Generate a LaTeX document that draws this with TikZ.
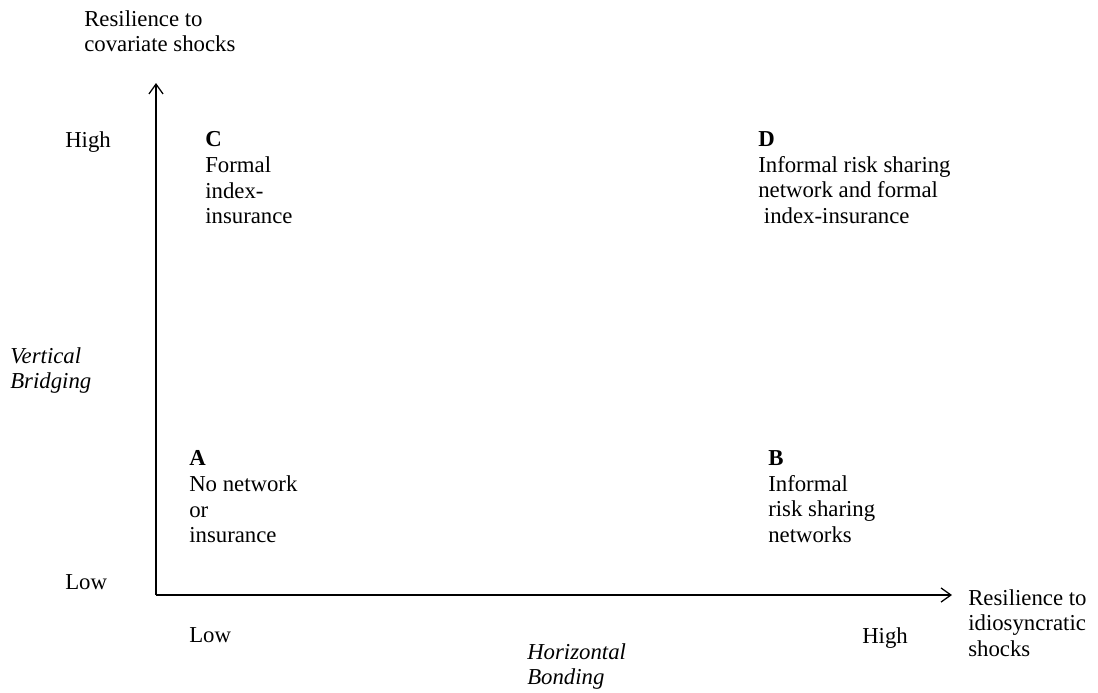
\documentclass[tikz,border=0pt]{standalone}
\usepackage{fontspec}
\setmainfont{Liberation Serif}
\usetikzlibrary{arrows.meta}
\begin{document}
\begin{tikzpicture}[x=0.025cm, y=-0.025cm, font=\fontsize{16.2}{18.4}\selectfont, line join=round, >={Straight Barb[length=7pt,width=10pt]},
	lbl/.style={anchor=north west, inner sep=0pt, align=left}]
		\useasboundingbox (0,0) rectangle (1098,692);
		\coordinate (O) at (156,595);
		\coordinate (ytop) at (156,83);
		\coordinate (xend) at (952,595);
		\draw[->, line width=0.9pt] (O)--(ytop);
		\draw[->, line width=0.9pt] (O)--(xend);
		
		% axis titles
		\node[lbl] (ytitle) at (84,10) {Resilience to\\covariate shocks};
		\node[lbl] (xtitle) at (968,589) {Resilience to\\idiosyncratic\\shocks};
		\node[lbl] (vert) at (10,347) {\itshape Vertical\\\itshape Bridging};
		\node[lbl] (horiz) at (527,643) {\itshape Horizontal\\\itshape Bonding};
		
		% low / high
		\node[lbl] (yhigh) at (65,131) {High};
		\node[lbl] (ylow) at (65,574) {Low};
		\node[lbl] (xlow) at (189,627) {Low};
		\node[lbl] (xhigh) at (862,627) {High};
		
		% quadrants
		\node[lbl] (C) at (205,131) {\textbf{C}\\Formal\\index-\\insurance};
		\node[lbl] (D) at (758,131) {\textbf{D}\\Informal risk sharing\\network and formal\\\hspace{0.25em}index-insurance};
		\node[lbl] (A) at (189,450) {\textbf{A}\\No network\\or\\insurance};
		\node[lbl] (B) at (768,450) {\textbf{B}\\Informal\\risk sharing\\networks};
	\end{tikzpicture}
\end{document}
